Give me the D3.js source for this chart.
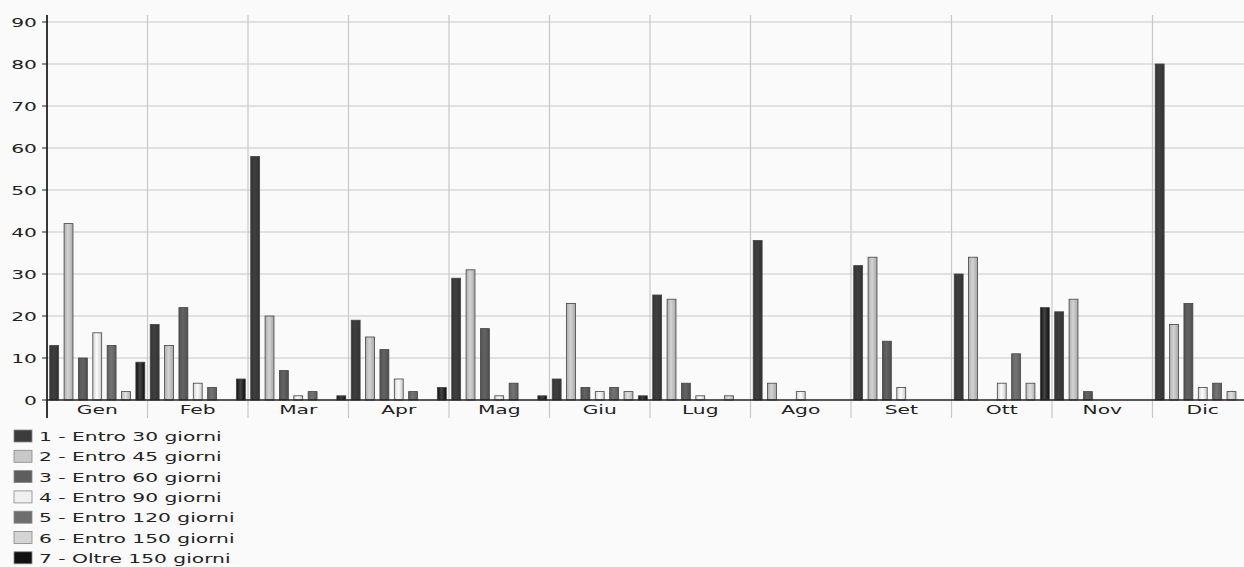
<!DOCTYPE html>
<html>
<head>
<meta charset="utf-8">
<script src="https://cdn.jsdelivr.net/npm/d3@7"></script>
<style>
  body { margin: 0; background: #fafafa; }
  svg { display: block; font-family: "DejaVu Sans", Verdana, sans-serif; }
</style>
</head>
<body>
<div class="chart"></div>
<script>
// months and series
const months = ['Gen','Feb','Mar','Apr','Mag','Giu','Lug','Ago','Set','Ott','Nov','Dic'];
const seriesNames = ['1 - Entro 30 giorni','2 - Entro 45 giorni','3 - Entro 60 giorni','4 - Entro 90 giorni',
  '5 - Entro 120 giorni','6 - Entro 150 giorni','7 - Oltre 150 giorni'];
const seriesColors = ['#3c3c3c','#c8c8c8','#5e5e5e','#f0f0f0','#6e6e6e','#d4d4d4','#111111'];

// values per series, one per month
const s1 = [13,18,58,19,29,5,25,38,32,30,21,80];
const s2 = [42,13,20,15,31,23,24,4,34,34,24,18];
const s3 = [10,22,7,12,17,3,4,0,14,0,2,23];
const s4 = [16,4,1,5,1,2,1,2,3,4,0,3];
const s5 = [13,3,2,2,4,3,0,0,0,11,0,4];
const s6 = [2,0,0,0,0,2,1,0,0,4,0,2];
const s7 = [9,5,1,3,1,1,0,0,0,22,0,0];
const yTicks = [0,10,20,30,40,50,60,70,80,90];

const series = [s1,s2,s3,s4,s5,s6,s7];
const width = 1244, height = 567;
const sx = 1.62; // text in the reference is stretched horizontally

const svg = d3.select('.chart').append('svg')
  .attr('width', width).attr('height', height);

svg.append('rect').attr('width', width).attr('height', height).attr('fill', '#fafafa');

//gradients for the bars
const defs = svg.append('defs');
seriesColors.forEach((c, i) => {
  const g = defs.append('linearGradient').attr('id', 'g' + i)
    .attr('x1', '0%').attr('x2', '100%').attr('y1', '0%').attr('y2', '0%');
  const base = d3.color(c);
  g.append('stop').attr('offset', '0%').attr('stop-color', base.darker(0.4));
  g.append('stop').attr('offset', '45%').attr('stop-color', i == 6 ? '#444' : base.brighter(0.15));
  g.append('stop').attr('offset', '100%').attr('stop-color', base.darker(0.5));
});

const x = d3.scaleBand().domain(months).range([47, 1253]).padding(0);
const xs = d3.scaleBand().domain(d3.range(7)).range([0, x.bandwidth()]).paddingInner(0.38).paddingOuter(0.19);
const y = d3.scaleLinear().domain([0, 90]).range([400, 22]);

//grid
svg.selectAll('line.hgrid').data(yTicks.slice(1)).enter().append('line')
  .attr('x1', 47).attr('x2', width).attr('y1', d => y(d)).attr('y2', d => y(d))
  .attr('stroke', '#c8c8c8').attr('stroke-width', 1.2);
svg.selectAll('line.vgrid').data(months.slice(1)).enter().append('line')
  .attr('x1', d => x(d)).attr('x2', d => x(d)).attr('y1', 15).attr('y2', 418)
  .attr('stroke', '#c8c8c8').attr('stroke-width', 1.2);

//bars
months.forEach((m, mi) => {
  svg.selectAll('rect.b' + mi)
    .data(series.map((s, si) => ({ v: s[mi], si: si })).filter(d => d.v > 0))
    .enter().append('rect')
    .attr('x', d => x(m) + xs(d.si))
    .attr('width', xs.bandwidth())
    .attr('y', d => y(d.v))
    .attr('height', d => y(0) - y(d.v))
    .attr('fill', d => 'url(#g' + d.si + ')')
    .attr('stroke', '#444').attr('stroke-width', 0.8);
});

//axes
svg.append('line').attr('x1', 47).attr('x2', width).attr('y1', 400).attr('y2', 400)
  .attr('stroke', '#222').attr('stroke-width', 1.5);
svg.append('line').attr('x1', 47).attr('x2', 47).attr('y1', 15).attr('y2', 418)
  .attr('stroke', '#222').attr('stroke-width', 1.8);
svg.selectAll('line.yt').data(yTicks).enter().append('line')
  .attr('x1', 42).attr('x2', 47).attr('y1', d => y(d)).attr('y2', d => y(d))
  .attr('stroke', '#222');

svg.selectAll('text.yl').data(yTicks).enter().append('text')
  .attr('transform', d => `translate(37,${y(d) + 4.5}) scale(${sx},1)`)
  .attr('text-anchor', 'end').attr('font-size', '12.5px').attr('fill', '#222')
  .text(d => d);

svg.selectAll('text.xl').data(months).enter().append('text')
  .attr('transform', d => `translate(${x(d) + x.bandwidth() / 2},${414}) scale(${sx},1)`)
  .attr('text-anchor', 'middle').attr('font-size', '12.5px').attr('fill', '#222')
  .text(d => d);

//legend
const leg = svg.selectAll('g.leg').data(seriesNames).enter().append('g')
  .attr('transform', (d, i) => `translate(14,${430 + i * 20.3})`);
leg.append('rect').attr('width', 18).attr('height', 12)
  .attr('fill', (d, i) => seriesColors[i]).attr('stroke', '#888').attr('stroke-width', 0.8);
leg.append('text')
  .attr('transform', `translate(25,11) scale(${sx},1)`)
  .attr('font-size', '12.5px').attr('fill', '#222')
  .text(d => d);
</script>
</body>
</html>
